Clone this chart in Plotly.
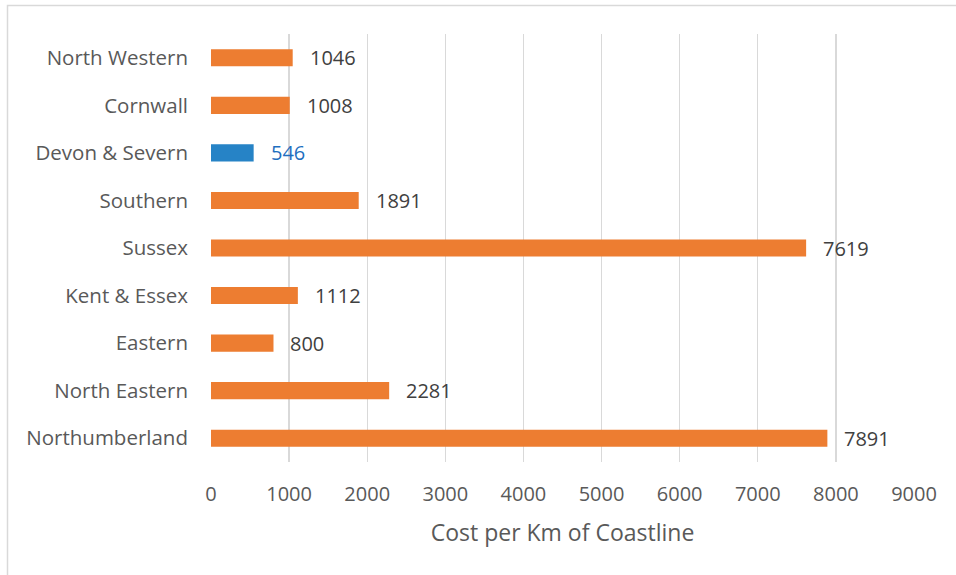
import plotly.graph_objects as go

categories = ["Northumberland", "North Eastern", "Eastern", "Kent & Essex", "Sussex",
              "Southern", "Devon & Severn", "Cornwall", "North Western"]
values = [7891, 2281, 800, 1112, 7619, 1891, 546, 1008, 1046]
highlight = "Devon & Severn"
x_ticks = list(range(0, 10000, 1000))

ORANGE = "#ED7D31"
BLUE = "#2683C6"
BLUE_TEXT = "#1F6FBF"
GRAY_TEXT = "#595959"
LABEL_TEXT = "#404040"
FONT = "Open Sans"

colors = [BLUE if c == highlight else ORANGE for c in categories]

fig = go.Figure(go.Bar(
    y=categories, x=values, orientation="h",
    marker=dict(color=colors, line=dict(width=0)),
    hoverinfo="skip",
))

for c, v in zip(categories, values):
    fig.add_annotation(
        x=v, y=c, text=str(v), showarrow=False, xanchor="left", xshift=15,
        font=dict(family=FONT, size=20, color=BLUE_TEXT if c == highlight else LABEL_TEXT),
    )

L, R, T, B = 211, 42, 34, 113
W, H = 956, 575
pw, ph = W - L - R, H - T - B

def px2x(px):
    return (px - L) / pw

def px2y(py):
    return (H - B - py) / ph

fig.add_shape(type="rect", xref="paper", yref="paper",
              x0=px2x(7.5), x1=px2x(980), y0=px2y(600), y1=px2y(5.5),
              line=dict(color="#D9D9D9", width=1.5), fillcolor="rgba(0,0,0,0)", layer="below")

fig.update_layout(
    width=W, height=H,
    margin=dict(l=L, r=R, t=T, b=B, pad=0),
    paper_bgcolor="white", plot_bgcolor="white",
    bargap=0.64,
    showlegend=False,
    font=dict(family=FONT, size=19, color=GRAY_TEXT),
    xaxis=dict(
        range=[0, 9000], tickvals=x_ticks, ticktext=[str(t) for t in x_ticks],
        showgrid=True, gridcolor="#D9D9D9", gridwidth=1.3,
        zeroline=False, showline=False, ticks="",
        tickfont=dict(family=FONT, size=20, color=GRAY_TEXT),
        ticklabelstandoff=18,
        title=dict(text="Cost per Km of Coastline", standoff=18,
                   font=dict(family=FONT, size=23, color=GRAY_TEXT)),
        fixedrange=True,
    ),
    yaxis=dict(
        categoryorder="array", categoryarray=categories,
        showgrid=False, zeroline=False, showline=False, ticks="",
        tickfont=dict(family=FONT, size=20.5, color=GRAY_TEXT),
        ticklabelstandoff=22,
        fixedrange=True,
    ),
)

fig.write_html("out.html", config={"displayModeBar": False, "staticPlot": True},
               post_script="document.body.style.margin='0px';document.body.style.overflow='hidden';")
